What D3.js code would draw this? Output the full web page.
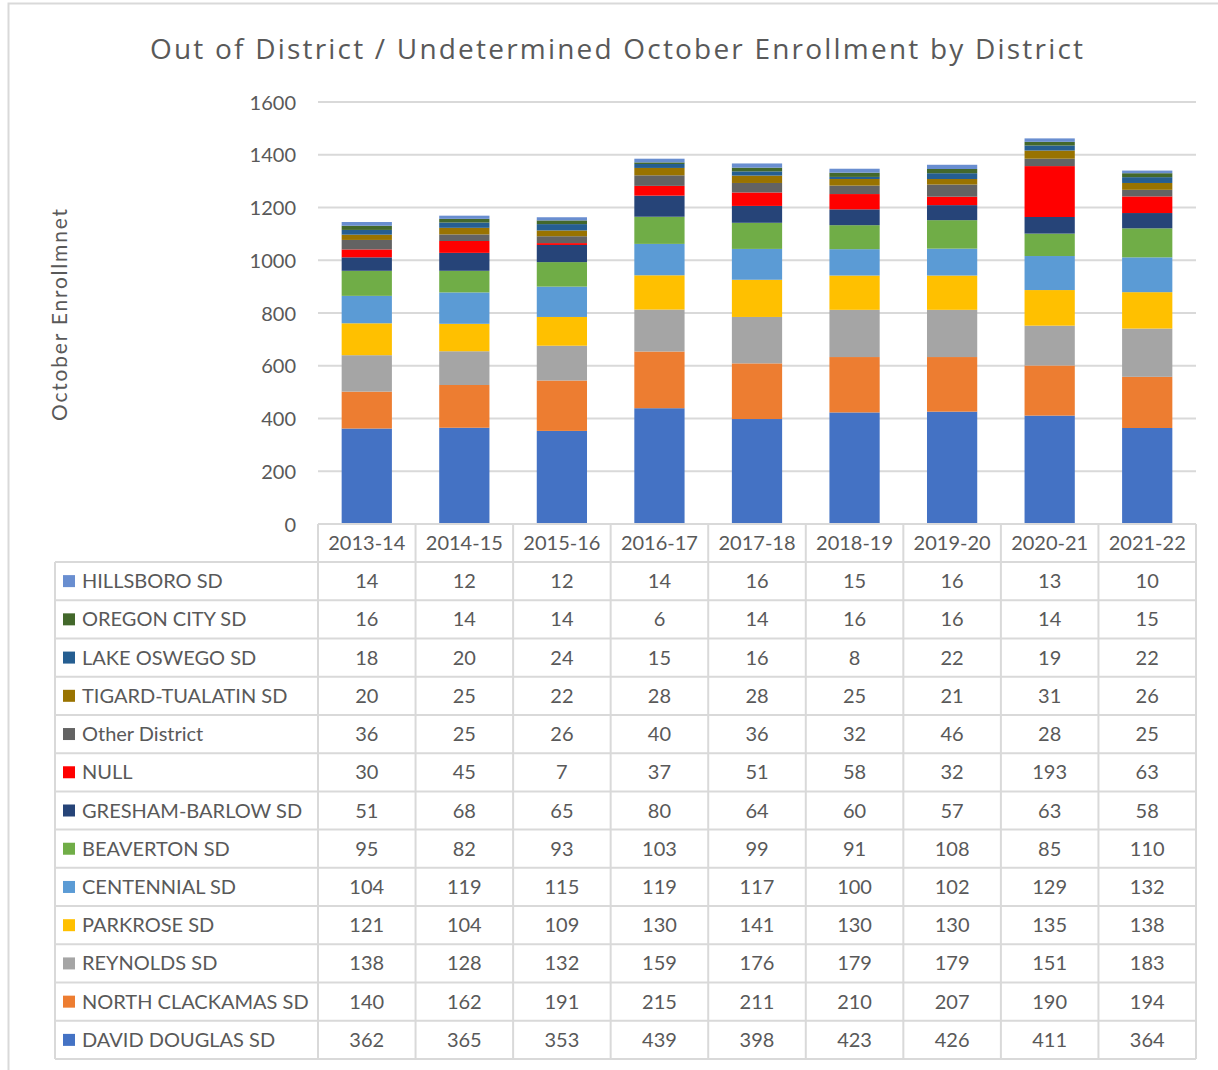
<!DOCTYPE html>
<html><head><meta charset="utf-8">
<script src="https://cdn.jsdelivr.net/npm/d3@7"></script>
<style>body{margin:0;background:#fff;} svg{display:block;font-family:Lato,"Open Sans",sans-serif;}</style>
</head><body>
<svg id="c" width="1218" height="1070"></svg>
<script>
const years = ["2013-14","2014-15","2015-16","2016-17","2017-18","2018-19","2019-20","2020-21","2021-22"];
// bottom to top stack order
const districts = ["DAVID DOUGLAS SD","NORTH CLACKAMAS SD","REYNOLDS SD","PARKROSE SD","CENTENNIAL SD","BEAVERTON SD","GRESHAM-BARLOW SD","NULL","Other District","TIGARD-TUALATIN SD","LAKE OSWEGO SD","OREGON CITY SD","HILLSBORO SD"];
const colors = ["#4472C4","#ED7D31","#A5A5A5","#FFC000","#5B9BD5","#70AD47","#264478","#FF0000","#636363","#997300","#255E91","#43682B","#698ED0"];
const davidDouglas   = [362,365,353,439,398,423,426,411,364];
const northClackamas = [140,162,191,215,211,210,207,190,194];
const reynolds       = [138,128,132,159,176,179,179,151,183];
const parkrose       = [121,104,109,130,141,130,130,135,138];
const centennial     = [104,119,115,119,117,100,102,129,132];
const beaverton      = [95,82,93,103,99,91,108,85,110];
const greshamBarlow  = [51,68,65,80,64,60,57,63,58];
const nullVals       = [30,45,7,37,51,58,32,193,63];
const otherDistrict  = [36,25,26,40,36,32,46,28,25];
const tigardTualatin = [20,25,22,28,28,25,21,31,26];
const lakeOswego     = [18,20,24,15,16,8,22,19,22];
const oregonCity     = [16,14,14,6,14,16,16,14,15];
const hillsboro      = [14,12,12,14,16,15,16,13,10];
const yTicks = [0,200,400,600,800,1000,1200,1400,1600];

const series = [davidDouglas,northClackamas,reynolds,parkrose,centennial,beaverton,greshamBarlow,nullVals,otherDistrict,tigardTualatin,lakeOswego,oregonCity,hillsboro];

const svg = d3.select("#c");
const txt = "#595959", grid = "#d9d9d9";

// outer chart border
svg.append("path").attr("d","M8.5,1070 V3.5 H1218").attr("fill","none").attr("stroke","#d9d9d9").attr("stroke-width",2);

svg.append("text").attr("x",150).attr("y",59).attr("textLength",933).attr("lengthAdjust","spacing")
  .attr("font-family","'Open Sans',sans-serif").attr("font-size",28).attr("fill",txt)
  .text("Out of District / Undetermined October Enrollment by District");

const x = d3.scaleBand().domain(years).range([318,1196]).padding(0);
const y = d3.scaleLinear().domain([0,1600]).range([524,102]);

// gridlines
svg.append("g").selectAll("line").data(yTicks.filter(t=>t>0)).join("line")
  .attr("x1",318).attr("x2",1196).attr("y1",d=>y(d)).attr("y2",d=>y(d))
  .attr("stroke",grid).attr("stroke-width",2);

// y axis
const yAxis = d3.axisLeft(y).tickValues(yTicks).tickFormat(d3.format("d")).tickSize(0).tickPadding(0);
const ga = svg.append("g").attr("transform","translate(296,0)").call(yAxis);
ga.select(".domain").remove();
ga.selectAll("text").attr("font-size",20).attr("fill",txt).attr("font-family","Lato,sans-serif").attr("dy","0.35em");

svg.append("text").attr("transform","translate(67,315) rotate(-90)").attr("text-anchor","middle")
  .attr("font-size",21).attr("textLength",212).attr("lengthAdjust","spacing").attr("fill",txt).text("October Enrollmnet");

// stacked bars
const table = years.map((yr,i)=>{const o={year:yr}; districts.forEach((d,k)=>o[d]=series[k][i]); return o;});
const stack = d3.stack().keys(districts)(table);
const bw = x.bandwidth()*0.515;
svg.append("g").selectAll("g").data(stack).join("g").attr("fill",(d,i)=>colors[i])
  .selectAll("rect").data(d=>d).join("rect")
  .attr("x",d=>x(d.data.year)+(x.bandwidth()-bw)/2).attr("width",bw)
  .attr("y",d=>y(d[1])).attr("height",d=>y(d[0])-y(d[1]));

// data table
const rowTop = 562, rowH = (1059-562)/13, legL = 55;
const tg = svg.append("g");
tg.selectAll("text.hdr").data(years).join("text").attr("class","hdr")
  .attr("x",d=>x(d)+x.bandwidth()/2).attr("y",543).attr("dy","0.35em").attr("text-anchor","middle")
  .attr("font-size",20).attr("fill",txt).text(d=>d);
const rows = districts.slice().reverse();
const rowSeries = series.slice().reverse();
const rowColors = colors.slice().reverse();
rows.forEach((name,r)=>{
  const cy = rowTop + rowH*r + rowH/2;
  tg.append("rect").attr("x",63).attr("y",cy-6).attr("width",12).attr("height",12).attr("fill",rowColors[r]);
  tg.append("text").attr("x",82).attr("y",cy).attr("dy","0.35em").attr("font-size",20).attr("fill",txt).text(name);
  tg.selectAll(null).data(rowSeries[r]).join("text")
    .attr("x",(d,i)=>x(years[i])+x.bandwidth()/2).attr("y",cy).attr("dy","0.35em").attr("text-anchor","middle")
    .attr("font-size",20).attr("fill",txt).text(d=>d);
});
const lg = svg.append("g").attr("stroke",grid).attr("stroke-width",2);
lg.append("line").attr("x1",318).attr("x2",1196).attr("y1",524).attr("y2",524);
for(let r=0;r<=13;r++){
  lg.append("line").attr("x1",legL).attr("x2",1196).attr("y1",rowTop+rowH*r).attr("y2",rowTop+rowH*r);
}
lg.append("line").attr("x1",legL).attr("x2",legL).attr("y1",rowTop).attr("y2",1059);
years.forEach(yr=>lg.append("line").attr("x1",x(yr)).attr("x2",x(yr)).attr("y1",524).attr("y2",1059));
lg.append("line").attr("x1",1196).attr("x2",1196).attr("y1",524).attr("y2",1059);
</script>
</body></html>
